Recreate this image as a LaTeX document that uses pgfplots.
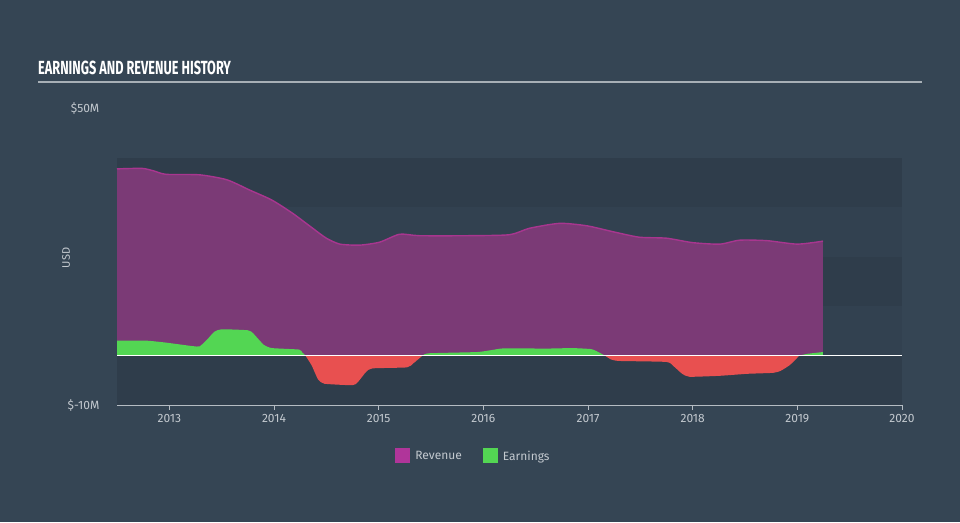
\documentclass[border=0pt]{standalone}
\usepackage{pgfplots}
\pgfplotsset{compat=1.18}
\usepackage{pgfplotstable}
\usepackage{fontspec}
\setmainfont{Fira Sans}
\newfontfamily\titlefont[FakeStretch=0.67]{Fira Sans}
\definecolor{bg}{HTML}{354554}
\definecolor{plotbg}{HTML}{324150}
\definecolor{band}{HTML}{2F3D4B}
\definecolor{revfill}{HTML}{7B3A76}
\definecolor{revline}{HTML}{A8368F}
\definecolor{revleg}{HTML}{B0359A}
\definecolor{earn}{HTML}{53D653}
\definecolor{loss}{HTML}{E85050}
\definecolor{txt}{HTML}{C3C9CF}

\pgfplotstableread{
x y
2012.5 37.7
2012.74 37.8
2012.85 37.3
2012.97 36.6
2013.29 36.5
2013.55 35.5
2013.77 33.4
2013.98 31.4
2014.18 28.7
2014.37 25.7
2014.50 23.7
2014.63 22.5
2014.82 22.3
2015.01 22.9
2015.20 24.5
2015.39 24.2
2015.84 24.2
2016.25 24.4
2016.44 25.7
2016.73 26.7
2016.99 26.2
2017.24 25.0
2017.49 23.9
2017.75 23.7
2018.00 22.8
2018.26 22.5
2018.45 23.3
2018.71 23.2
2019.00 22.5
2019.245 23.1
}\revenue

\pgfplotstableread{
x y
2012.5 3.0
2012.78 3.0
2012.97 2.6
2013.22 1.9
2013.29 1.85
2013.36 3.2
2013.43 4.8
2013.50 5.3
2013.75 5.1
2013.80 4.5
2013.90 2.2
2013.98 1.5
2014.24 1.2
2014.27 0.6
2014.30 0
}\earnA

\pgfplotstableread{
x y
2015.42 0
2015.48 0.45
2015.94 0.7
2016.08 1.1
2016.20 1.45
2016.60 1.4
2016.85 1.5
2017.03 1.3
2017.08 0.9
2017.16 0
}\earnB

\pgfplotstableread{
x y
2019.02 0
2019.10 0.35
2019.245 0.7
}\earnC

\pgfplotstableread{
x y
2014.30 0
2014.36 -2.0
2014.42 -4.8
2014.48 -5.7
2014.75 -6.0
2014.80 -5.4
2014.88 -3.3
2014.94 -2.6
2015.27 -2.4
2015.33 -1.6
2015.42 0
}\earnD

\pgfplotstableread{
x y
2017.16 0
2017.22 -0.8
2017.30 -1.1
2017.75 -1.3
2017.82 -2.2
2017.90 -3.7
2017.97 -4.3
2018.26 -4.1
2018.52 -3.7
2018.77 -3.5
2018.84 -3.1
2018.93 -1.9
2019.02 0
}\earnE

\begin{document}
\begin{tikzpicture}
\fill[bg] (0pt,0pt) rectangle (960pt,-522pt);
\node[anchor=west,text=white,font=\titlefont\bfseries\fontsize{19}{19}\selectfont,inner sep=0pt] at (38pt,-68pt) {EARNINGS AND REVENUE HISTORY};
\draw[color=txt!80!bg,line width=1.8pt] (38pt,-82pt) -- (922pt,-82pt);
\begin{axis}[
  at={(117pt,-405pt)}, anchor=south west,
  width=785pt, height=297pt, scale only axis,
  xmin=2012.5, xmax=2020, ymin=-10, ymax=50,
  axis line style={draw=none},
  axis x line*=bottom,
  x axis line style={draw=txt!90!bg, line width=0.8pt},
  axis y line=none,
  xtick={2013,2014,2015,2016,2017,2018,2019,2020},
  xticklabels={2013,2014,2015,2016,2017,2018,2019,2020},
  xtick style={draw=txt!90!bg, line width=0.8pt},
  tick align=outside, major tick length=5pt,
  xticklabel style={text=txt, font=\fontsize{12}{12}\selectfont, yshift=-1pt},
  ytick=\empty,
  clip=false,
  legend style={at={(0.456,-0.172)}, anchor=center, draw=none, fill=none,
    legend columns=2, text=txt, font=\fontsize{12}{12}\selectfont,
    nodes={inner xsep=5pt},
    /tikz/every even column/.append style={column sep=16pt}},
  legend cell align=left,
]
% background bands
\addplot[fill=plotbg, draw=none, forget plot] coordinates {(2012.5,-10) (2020,-10) (2020,40) (2012.5,40)} -- cycle;
\addplot[fill=band, draw=none, forget plot] coordinates {(2012.5,30) (2020,30) (2020,40) (2012.5,40)} -- cycle;
\addplot[fill=band, draw=none, forget plot] coordinates {(2012.5,10) (2020,10) (2020,20) (2012.5,20)} -- cycle;
\addplot[fill=band, draw=none, forget plot] coordinates {(2012.5,-10) (2020,-10) (2020,0) (2012.5,0)} -- cycle;
% revenue
\addplot[fill=revfill, draw=none, smooth, tension=0.4, forget plot] table {\revenue} \closedcycle;
\addplot[draw=revline, line width=1.4pt, smooth, tension=0.4, forget plot] table {\revenue};
% earnings
\addplot[fill=earn, draw=none, smooth, tension=0.3, forget plot] table {\earnA} \closedcycle;
\addplot[fill=earn, draw=none, smooth, tension=0.3, forget plot] table {\earnB} \closedcycle;
\addplot[fill=earn, draw=none, smooth, tension=0.3, forget plot] table {\earnC} \closedcycle;
\addplot[fill=loss, draw=none, smooth, tension=0.3, forget plot] table {\earnD} \closedcycle;
\addplot[fill=loss, draw=none, smooth, tension=0.3, forget plot] table {\earnE} \closedcycle;
% zero line
\addplot[draw=white, line width=1pt, forget plot] coordinates {(2012.5,0) (2020,0)};
% legend entries
\addlegendimage{area legend, fill=revleg, draw=none, legend image code/.code={\fill[revleg] (0pt,-7pt) rectangle (15pt,8pt);}}
\addlegendentry{Revenue}
\addlegendimage{area legend, fill=earn, draw=none, legend image code/.code={\fill[earn] (0pt,-7pt) rectangle (15pt,8pt);}}
\addlegendentry{Earnings}
% y tick labels and label
\node[anchor=east, text=txt, font=\fontsize{12}{12}\selectfont] at (axis description cs:-0.018,1) {\$50M};
\node[anchor=east, text=txt, font=\fontsize{12}{12}\selectfont] at (axis description cs:-0.018,0) {\$-10M};
\node[rotate=90, text=txt, font=\fontsize{11}{11}\selectfont] at (axis description cs:-0.065,0.495) {USD};
\end{axis}
\end{tikzpicture}
\end{document}
